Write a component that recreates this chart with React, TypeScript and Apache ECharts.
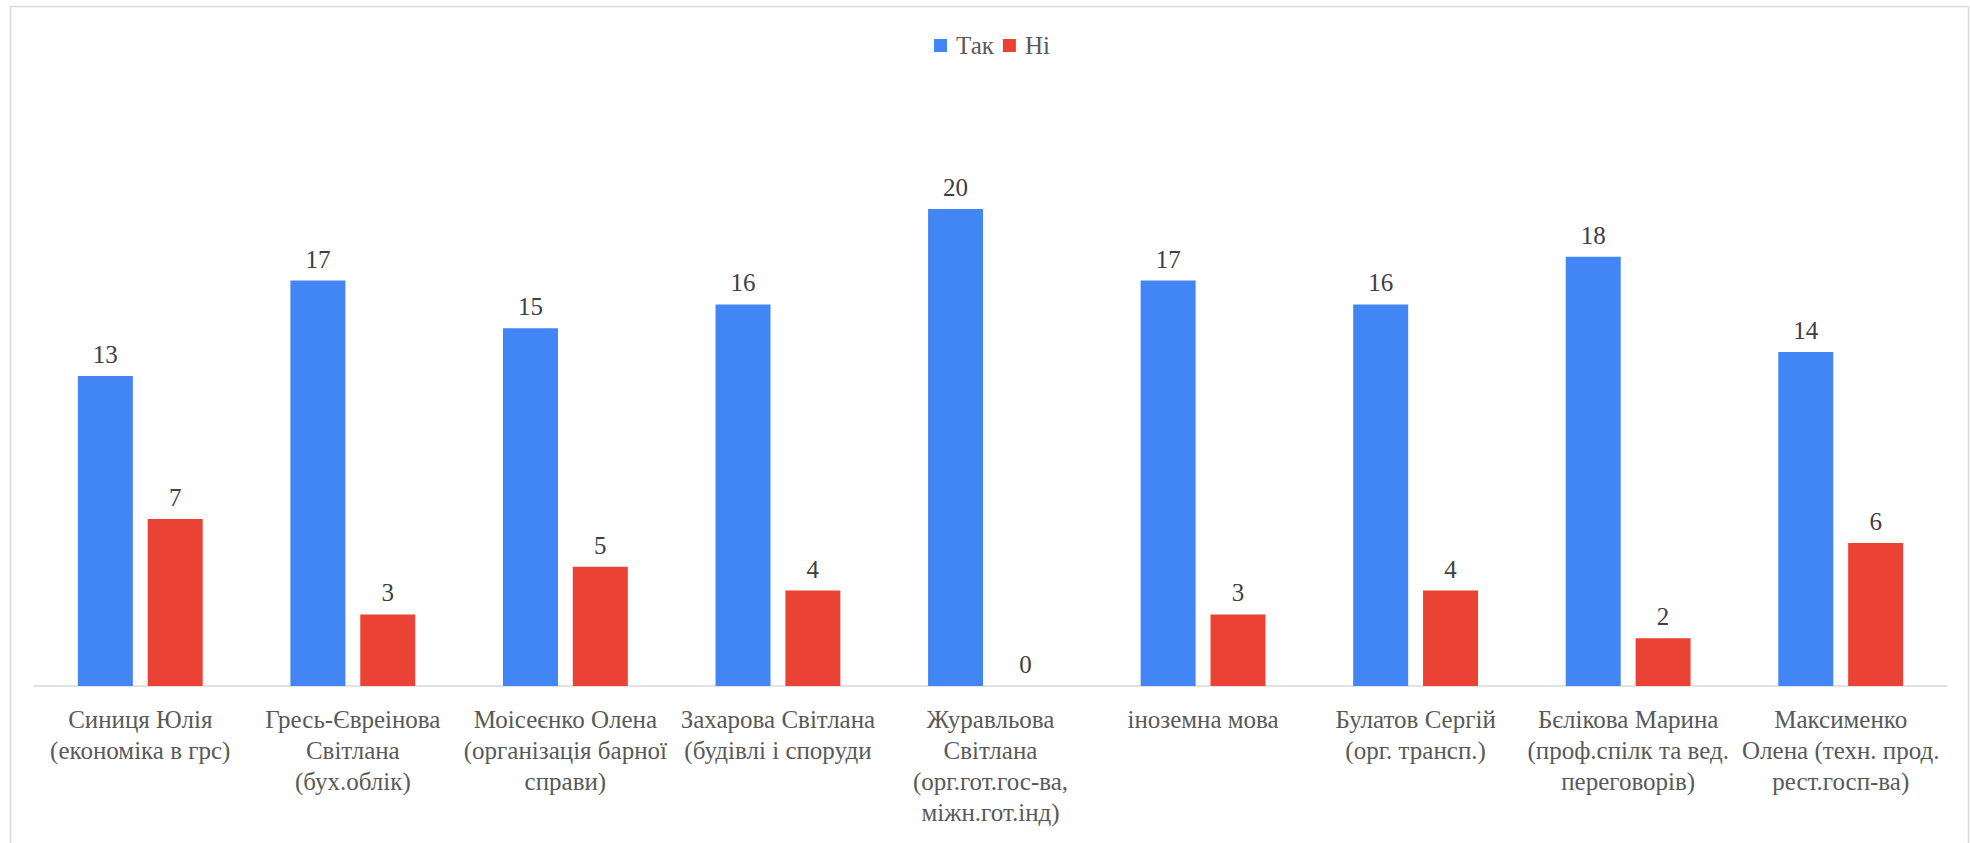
import React, { useEffect, useRef } from "react";
import * as echarts from "echarts";

const categories = [
  "Синиця Юлія\n(економіка в грс)",
  "Гресь-Євреінова\nСвітлана\n(бух.облік)",
  "Моісеєнко Олена\n(організація барної\nсправи)",
  "Захарова Світлана\n(будівлі і споруди",
  "Журавльова\nСвітлана\n(орг.гот.гос-ва,\nміжн.гот.інд)",
  "іноземна мова",
  "Булатов Сергій\n(орг. трансп.)",
  "Бєлікова Марина\n(проф.спілк та вед.\nпереговорів)",
  "Максименко\nОлена (техн. прод.\nрест.госп-ва)",
];
const yesValues = [13, 17, 15, 16, 20, 17, 16, 18, 14];
const noValues = [7, 3, 5, 4, 0, 3, 4, 2, 6];
const seriesNames = ["Так", "Ні"];

const FONT = "Liberation Serif";

export default function App() {
  const ref = useRef<HTMLDivElement>(null);
  useEffect(() => {
    if (!ref.current) return;
    const chart = echarts.init(ref.current, undefined, { renderer: "svg" });
    const labelStyle = {
      show: true,
      position: "top" as const,
      distance: 9,
      fontFamily: FONT,
      fontSize: 25,
      color: "#404040",
    };
    chart.setOption({
      animation: false,
      backgroundColor: "#ffffff",
      textStyle: { fontFamily: FONT },
      graphic: [
        {
          type: "rect",
          shape: { x: 10.5, y: 6.5, width: 1958, height: 900 },
          style: { fill: "none", stroke: "#d9d9d9", lineWidth: 1.5 },
          silent: true,
        },
      ],
      legend: {
        left: 929,
        top: 28,
        itemWidth: 13,
        itemHeight: 13,
        itemGap: 9,
        icon: "rect",
        textStyle: {
          fontFamily: FONT,
          fontSize: 25,
          color: "#595959",
          padding: [4, 0, 0, 4],
        },
        data: seriesNames,
      },
      grid: { left: 34, right: 23, top: 209, bottom: 157, containLabel: false },
      xAxis: {
        type: "category",
        data: categories,
        axisLine: { show: true, lineStyle: { color: "#d9d9d9", width: 1.5 } },
        axisTick: { show: false },
        axisLabel: {
          interval: 0,
          margin: 18,
          fontFamily: FONT,
          fontSize: 25,
          lineHeight: 31,
          color: "#595959",
          hideOverlap: false,
        },
      },
      yAxis: {
        type: "value",
        min: 0,
        max: 20,
        show: false,
        splitLine: { show: false },
      },
      series: [
        {
          name: seriesNames[0],
          type: "bar",
          data: yesValues,
          barWidth: 55,
          barGap: "27%",
          itemStyle: { color: "#4285F4" },
          label: labelStyle,
        },
        {
          name: seriesNames[1],
          type: "bar",
          data: noValues,
          barWidth: 55,
          barGap: "27%",
          itemStyle: { color: "#EA4335" },
          label: labelStyle,
        },
      ],
    });
    return () => chart.dispose();
  }, []);
  return (
    <div
      ref={ref}
      style={{ position: "fixed", left: 0, top: 0, width: 1970, height: 843 }}
    />
  );
}
